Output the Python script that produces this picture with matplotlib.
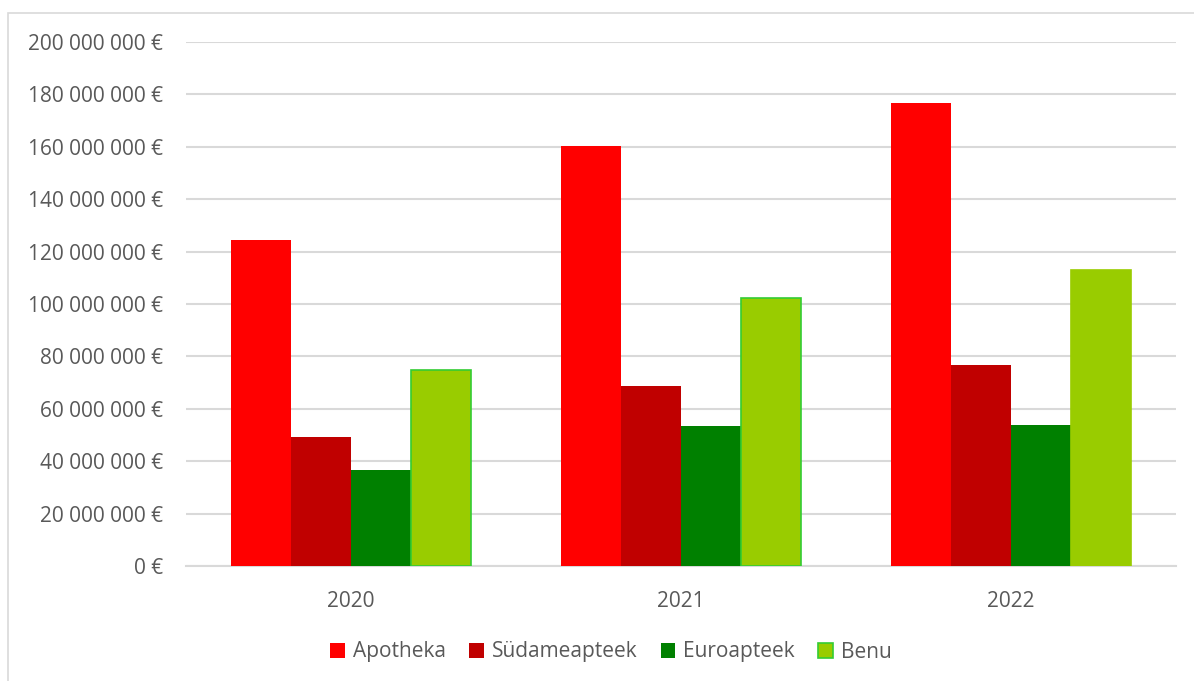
import numpy as np
import matplotlib.pyplot as plt
from matplotlib.patches import Rectangle
from matplotlib.ticker import FuncFormatter

years = ["2020", "2021", "2022"]
apotheka = [124.4e6, 160.3e6, 176.7e6]
sudameapteek = [49.2e6, 68.7e6, 76.7e6]
euroapteek = [36.6e6, 53.4e6, 53.8e6]
benu = [74.8e6, 102.3e6, 113.0e6]

series = [
    ("Apotheka", apotheka, "#ff0000", None),
    ("Südameapteek", sudameapteek, "#c00000", None),
    ("Euroapteek", euroapteek, "#008000", None),
    ("Benu", benu, "#99cc00", "#33cc33"),
]

plt.rcParams["font.family"] = ["Open Sans", "DejaVu Sans"]
TEXT = "#595959"
GRID = "#d9d9d9"

fig = plt.figure(figsize=(11.94, 6.81), dpi=100)
ax = fig.add_axes([186 / 1194, 1 - 566 / 681, 990 / 1194, 524 / 681])

# outer chart border (right/bottom run off the image)
fig.patches.append(Rectangle((8 / 1194, -0.1), 1.2, 1 - 13 / 681 + 0.1,
                             transform=fig.transFigure, fill=False,
                             edgecolor=GRID, linewidth=1.2))

x = np.arange(len(years))
w = 60 / 330
for i, (name, vals, color, edge) in enumerate(series):
    offs = (i - 1.5) * w
    bars = ax.bar(x + offs, vals, width=w, color=color, label=name, zorder=3,
                  edgecolor=edge if edge else color, linewidth=1.2 if edge else 0)
    if edge:
        # last year's Benu bar has no outline in the reference
        bars[-1].set_edgecolor(color)

ax.set_xlim(-0.5, 2.5)
ax.set_ylim(0, 200e6)
ax.set_yticks(np.arange(0, 200e6 + 1, 20e6))
ax.yaxis.set_major_formatter(FuncFormatter(
    lambda v, p: "{:,.0f} €".format(v).replace(",", " ")))
ax.set_xticks(x)
ax.set_xticklabels(years)

ax.grid(axis="y", color=GRID, linewidth=1.5, zorder=0)
for s in ["top", "right", "left"]:
    ax.spines[s].set_visible(False)
ax.spines["bottom"].set_color(GRID)
ax.spines["bottom"].set_linewidth(1.5)
ax.tick_params(axis="both", length=0, labelsize=15, colors=TEXT)
ax.tick_params(axis="y", pad=16.5)
ax.tick_params(axis="x", pad=18)

leg = fig.legend(loc="center", bbox_to_anchor=(611 / 1194, 1 - 652 / 681), ncol=4,
                 frameon=False, fontsize=15, handlelength=0.7, handleheight=0.7,
                 handletextpad=0.4, columnspacing=1.1)
for t in leg.get_texts():
    t.set_color(TEXT)

fig.savefig("out.png", dpi=100)
